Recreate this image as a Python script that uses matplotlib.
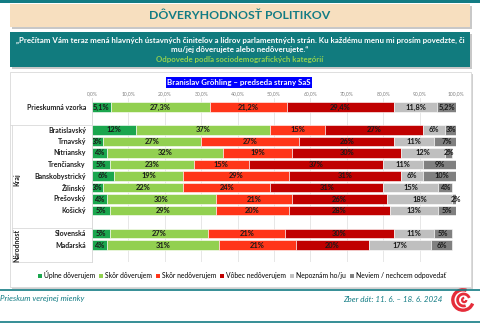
import matplotlib
matplotlib.use("Agg")
import matplotlib.pyplot as plt
from matplotlib.patches import Rectangle, Arc, Patch
import numpy as np

plt.rcParams['font.family'] = ['Lato', 'DejaVu Sans']

W, H = 480, 323

categories = ["Prieskumná vzorka", "Bratislavský", "Trnavský", "Nitriansky", "Trenčiansky",
              "Banskobystrický", "Žilinský", "Prešovský", "Košický", "Slovenská", "Maďarská"]
row_pos = [0, 2, 3, 4, 5, 6, 7, 8, 9, 11, 12]
series_names = ["Úplne dôverujem", "Skôr dôverujem", "Skôr nedôverujem", "Vôbec nedôverujem",
                "Nepoznám ho/ju", "Neviem / nechcem odpovedať"]
uplne = [5.1, 12, 3, 4, 5, 6, 3, 4, 5, 5, 4]
skor_dov = [27.3, 37, 27, 32, 23, 19, 22, 30, 29, 27, 31]
skor_ned = [21.2, 15, 27, 19, 15, 29, 24, 21, 20, 21, 21]
vobec = [29.4, 27, 26, 30, 37, 31, 31, 26, 28, 30, 20]
nepoznam = [11.8, 6, 11, 12, 11, 6, 15, 18, 13, 11, 17]
neviem = [5.2, 3, 7, 2, 9, 10, 4, 2, 5, 5, 6]
colors = ["#1BA64E", "#92D050", "#FF3519", "#C00000", "#BFBFBF", "#808080"]
tick_vals = [0, 10, 20, 30, 40, 50, 60, 70, 80, 90, 100]
tick_labels = ["0,0%", "10,0%", "20,0%", "30,0%", "40,0%", "50,0%", "60,0%", "70,0%", "80,0%", "90,0%", "100,0%"]

teal = "#137C84"
fig = plt.figure(figsize=(W / 100, H / 100), dpi=100)

def fx(x):
    return x / W

def fy(y):
    return 1 - y / H

def rect(x0, y0, x1, y1, **kw):
    fig.patches.append(Rectangle((fx(x0), fy(y1)), fx(x1) - fx(x0), fy(y0) - fy(y1),
                                 transform=fig.transFigure, zorder=-10, **kw))

# top band
rect(0, 0, 480, 2.5, facecolor=teal, edgecolor='none')
# title box with shadow
rect(12, 6, 472, 29, facecolor="#C8C8C8", edgecolor='none')
rect(10, 4, 470, 27, facecolor="#F7DFBF", edgecolor='none')
fig.text(fx(240), fy(15.5), "DÔVERYHODNOSŤ POLITIKOV", ha='center', va='center',
         fontsize=8.8, fontweight='bold', color=teal)
# question box
rect(12, 34, 472, 69, facecolor="#C8C8C8", edgecolor='none')
rect(10, 32, 470, 67, facecolor="#117B7E", edgecolor='none')
fig.text(fx(240), fy(40.5), "„Prečítam Vám teraz mená hlavných ústavných činiteľov a lídrov parlamentných strán. Ku každému menu mi prosím povedzte, či",
         ha='center', va='center', fontsize=5.7, fontweight='bold', color='white')
fig.text(fx(240), fy(49.5), "mu/jej dôverujete alebo nedôverujete.“", ha='center', va='center',
         fontsize=5.7, fontweight='bold', color='white')
fig.text(fx(240), fy(59.5), "Odpovede podľa sociodemografických kategórií", ha='center', va='center',
         fontsize=5.7, fontweight='bold', color='#92D050')
# chart frame
rect(12, 74, 473, 289, facecolor="#D0D0D0", edgecolor='none')
rect(10, 72, 471, 287, facecolor="white", edgecolor="#D9D9D9", linewidth=0.6)

# subtitle
fig.text(fx(239), fy(82.5), "Branislav Gröhling – predseda strany SaS", ha='center', va='center',
         fontsize=5.7, fontweight='bold', color='white',
         bbox=dict(boxstyle='square,pad=0.2', facecolor='#0000FF', edgecolor='none'))

# axes
ax_top, ax_bot, ax_l, ax_r = 98, 262, 92, 456
ax = fig.add_axes([fx(ax_l), fy(ax_bot), fx(ax_r) - fx(ax_l), fy(ax_top) - fy(ax_bot)])
spacing = 11.5
ax.set_ylim(12 + (ax_bot - 245) / spacing, -(107 - ax_top) / spacing)
ax.set_xlim(0, 100)
ax.set_facecolor('none')
for s in ax.spines.values():
    s.set_visible(False)

series = [uplne, skor_dov, skor_ned, vobec, nepoznam, neviem]
left = np.zeros(len(categories))
for i, (vals, col) in enumerate(zip(series, colors)):
    vals = np.array(vals, dtype=float)
    ax.barh(row_pos, vals, left=left, height=0.8, color=col, edgecolor='white', linewidth=0.4, zorder=3)
    for j, (v, l) in enumerate(zip(vals, left)):
        if j == 0:
            txt = f"{v:.1f}%".replace('.', ',')
        else:
            txt = f"{v:.0f}%"
        ax.text(l + v / 2, row_pos[j], txt, ha='center', va='center', fontsize=5.4,
                fontweight='bold', color='#1a1a1a', zorder=4)
    left += vals

ax.set_xticks(tick_vals)
ax.set_xticklabels(tick_labels, fontsize=3.6, color='#808080')
ax.xaxis.tick_top()
ax.tick_params(axis='x', length=0, pad=1.5)
ax.grid(axis='x', color='#E3E3E3', linewidth=0.6, zorder=0)
ax.set_yticks([])

for cat, r in zip(categories, row_pos):
    yy = 107 + r * spacing
    fig.text(fx(86), fy(yy), cat, ha='right', va='center', fontsize=5.0,
             fontweight='bold', color='#202020')

# table lines at left
lc = '#D9D9D9'
def hline(x0, x1, y):
    fig.add_artist(plt.Line2D([fx(x0), fx(x1)], [fy(y), fy(y)], color=lc, linewidth=0.6,
                              transform=fig.transFigure))
def vline(x, y0, y1):
    fig.add_artist(plt.Line2D([fx(x), fx(x)], [fy(y0), fy(y1)], color=lc, linewidth=0.6,
                              transform=fig.transFigure))
hline(10, 92, 124.5)
hline(12, 92, 227.5)
hline(12, 92, 262)
vline(92, 98, 262)
vline(12, 124.5, 262)

fig.text(fx(17), fy(180), "Kraj", rotation=90, ha='center', va='center', fontsize=5.0,
         fontweight='bold', color='#202020')
fig.text(fx(17), fy(245), "Národnosť", rotation=90, ha='center', va='center', fontsize=5.0,
         fontweight='bold', color='#202020')

# legend
handles = [Patch(facecolor=c, edgecolor='none', label=n) for c, n in zip(colors, series_names)]
fig.legend(handles=handles, loc='center', bbox_to_anchor=(fx(242), fy(275)), ncol=6,
           fontsize=4.9, frameon=False, handlelength=0.6, handleheight=0.6,
           handletextpad=0.3, columnspacing=0.55, borderpad=0)

# footer
hline_teal = dict(color=teal, linewidth=1.2, transform=fig.transFigure)
fig.add_artist(plt.Line2D([0, 1], [fy(289.5), fy(289.5)], **hline_teal))
fig.add_artist(plt.Line2D([0, 1], [fy(321.5), fy(321.5)], **hline_teal))
fig.text(fx(0), fy(299), "Prieskum verejnej mienky", ha='left', va='center', fontsize=5.8,
         style='italic', color=teal)
fig.text(fx(442), fy(299), "Zber dát: 11. 6. – 18. 6. 2024", ha='right', va='center',
         fontsize=5.8, style='italic', color=teal)

# logo swirl
lax = fig.add_axes([fx(451), fy(312), fx(24), fy(0) - fy(24)])
lax.set_xlim(-1, 1); lax.set_ylim(-1, 1); lax.set_aspect('equal'); lax.axis('off')
red = '#E52D3A'
lax.add_patch(Arc((0, 0), 1.7, 1.7, theta1=70, theta2=340, color=red, linewidth=2.4))
lax.add_patch(Arc((0.05, 0.0), 1.0, 1.0, theta1=20, theta2=290, color=red, linewidth=2.0))
lax.add_patch(Arc((0.1, 0.0), 0.35, 0.35, theta1=90, theta2=360, color=red, linewidth=1.6))

fig.savefig("out.png", dpi=100)
